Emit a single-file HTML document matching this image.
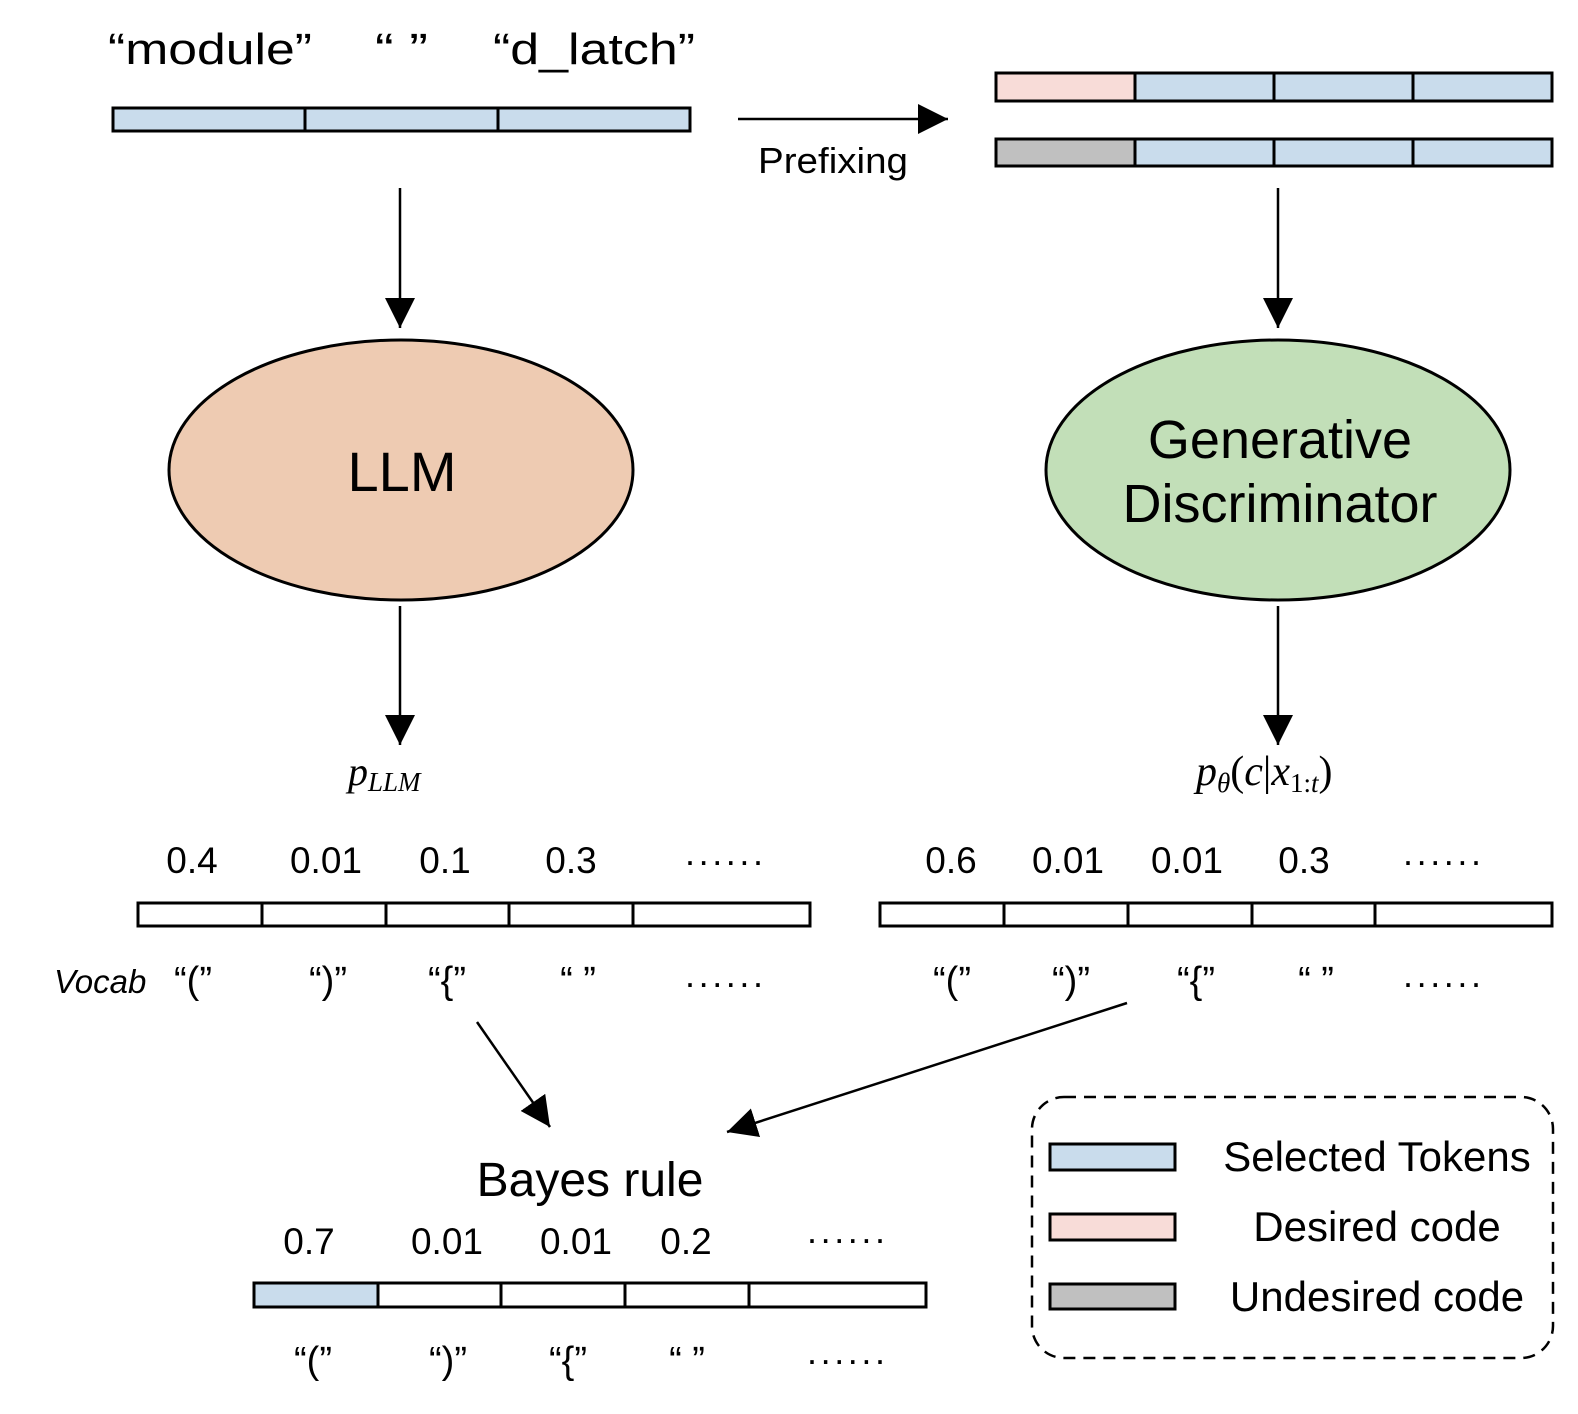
<!DOCTYPE html>
<html><head><meta charset="utf-8"><style>
html,body{margin:0;padding:0;background:#fff;}
svg{display:block;}
text{font-family:"Liberation Sans",Arial,sans-serif;fill:#000;}
.m{font-family:"Liberation Serif",serif;font-style:italic;}
</style></head><body>
<svg width="1578" height="1414" viewBox="0 0 1578 1414" xmlns="http://www.w3.org/2000/svg">
<defs>
<marker id="b" viewBox="0 0 10 10" refX="10" refY="5" markerWidth="30" markerHeight="30" orient="auto" markerUnits="userSpaceOnUse"><path d="M0,0 L10,5 L0,10 z" fill="#000"/></marker></defs>
<g stroke="#000" stroke-width="3" fill="none">
<rect x="113" y="108" width="577" height="23" fill="#c9dcec"/>
<line x1="305" y1="108" x2="305" y2="131"/><line x1="498" y1="108" x2="498" y2="131"/>
<rect x="996" y="73" width="556" height="28" fill="#c9dcec"/>
<rect x="996" y="73" width="139" height="28" fill="#f8dcd8"/>
<line x1="1274" y1="73" x2="1274" y2="101"/><line x1="1413" y1="73" x2="1413" y2="101"/>
<rect x="996" y="139" width="556" height="27" fill="#c9dcec"/>
<rect x="996" y="139" width="139" height="27" fill="#c0c0c0"/>
<line x1="1274" y1="139" x2="1274" y2="166"/><line x1="1413" y1="139" x2="1413" y2="166"/>
<line x1="738" y1="119" x2="948" y2="119" stroke-width="2.5" marker-end="url(#b)"/>
<line x1="400" y1="188" x2="400" y2="328" stroke-width="2.5" marker-end="url(#b)"/>
<line x1="1278" y1="188" x2="1278" y2="328" stroke-width="2.5" marker-end="url(#b)"/>
<line x1="400" y1="606" x2="400" y2="745" stroke-width="2.5" marker-end="url(#b)"/>
<line x1="1278" y1="606" x2="1278" y2="745" stroke-width="2.5" marker-end="url(#b)"/>
<line x1="477" y1="1022" x2="550" y2="1127" stroke-width="2.5" marker-end="url(#b)"/>
<line x1="1127" y1="1003" x2="727" y2="1132" stroke-width="2.5" marker-end="url(#b)"/>
<ellipse cx="401" cy="470" rx="232" ry="130" fill="#eecbb2"/>
<ellipse cx="1278" cy="470" rx="232" ry="130" fill="#c2dfb8"/>
<rect x="138" y="903" width="672" height="23" fill="#fff"/>
<line x1="262" y1="903" x2="262" y2="926"/><line x1="386" y1="903" x2="386" y2="926"/><line x1="509" y1="903" x2="509" y2="926"/><line x1="633" y1="903" x2="633" y2="926"/>
<rect x="880" y="903" width="672" height="23" fill="#fff"/>
<line x1="1004" y1="903" x2="1004" y2="926"/><line x1="1128" y1="903" x2="1128" y2="926"/><line x1="1252" y1="903" x2="1252" y2="926"/><line x1="1375" y1="903" x2="1375" y2="926"/>
<rect x="254" y="1283" width="672" height="24" fill="#fff"/>
<rect x="254" y="1283" width="124" height="24" fill="#c9dcec"/>
<line x1="501" y1="1283" x2="501" y2="1307"/><line x1="625" y1="1283" x2="625" y2="1307"/><line x1="749" y1="1283" x2="749" y2="1307"/>
<rect x="1032" y="1097" width="521" height="261" rx="32" stroke-dasharray="12,8" stroke-width="2.5"/>
<rect x="1050" y="1144" width="125" height="26" fill="#c9dcec"/>
<rect x="1050" y="1214" width="125" height="26" fill="#f8dcd8"/>
<rect x="1050" y="1284" width="125" height="25" fill="#c0c0c0"/>
</g>
<g font-size="44">
<text x="108" y="64" textLength="204" lengthAdjust="spacingAndGlyphs">“module”</text>
<text x="375" y="64" textLength="53" lengthAdjust="spacingAndGlyphs">“ ”</text>
<text x="493" y="64" textLength="202" lengthAdjust="spacingAndGlyphs">“d_latch”</text>
</g>
<text x="758" y="173" font-size="36" textLength="150" lengthAdjust="spacingAndGlyphs">Prefixing</text>
<text x="402" y="491" font-size="56" text-anchor="middle">LLM</text>
<text x="1280" y="458" font-size="54" text-anchor="middle">Generative</text>
<text x="1280" y="522" font-size="54" text-anchor="middle">Discriminator</text>
<text class="m" x="348" y="785" font-size="40">p<tspan font-size="27" dy="6">LLM</tspan></text>
<text class="m" x="1196" y="785" font-size="42">p<tspan font-size="27" dy="7">θ</tspan><tspan dy="-7" font-style="normal">(</tspan>c<tspan font-style="normal">|</tspan>x<tspan font-size="27" dy="7" font-style="normal">1:</tspan><tspan font-size="27">t</tspan><tspan dy="-7" font-style="normal">)</tspan></text>
<g font-size="37" text-anchor="middle">
<text x="192" y="873">0.4</text><text x="326" y="873">0.01</text><text x="445" y="873">0.1</text><text x="571" y="873">0.3</text>
<text x="951" y="873">0.6</text><text x="1068" y="873">0.01</text><text x="1187" y="873">0.01</text><text x="1304" y="873">0.3</text>
<text x="309" y="1254">0.7</text><text x="447" y="1254">0.01</text><text x="576" y="1254">0.01</text><text x="686" y="1254">0.2</text>
</g>
<g font-size="36">
<text x="685" y="865" textLength="78" lengthAdjust="spacing">......</text>
<text x="1403" y="865" textLength="78" lengthAdjust="spacing">......</text>
<text x="807" y="1243" textLength="78" lengthAdjust="spacing">......</text>
<text x="685" y="987" textLength="78" lengthAdjust="spacing">......</text>
<text x="1403" y="987" textLength="78" lengthAdjust="spacing">......</text>
<text x="807" y="1364" textLength="78" lengthAdjust="spacing">......</text>
</g>
<g font-size="38" text-anchor="middle">
<text x="193" y="993">“(”</text><text x="328" y="993">“)”</text><text x="447" y="993">“{”</text><text x="578" y="993">“ ”</text>
<text x="952" y="993">“(”</text><text x="1071" y="993">“)”</text><text x="1196" y="993">“{”</text><text x="1316" y="993">“ ”</text>
<text x="313" y="1373">“(”</text><text x="448" y="1373">“)”</text><text x="568" y="1373">“{”</text><text x="687" y="1373">“ ”</text>
</g>
<text x="54" y="993" font-size="33" font-style="italic">Vocab</text>
<text x="590" y="1196" font-size="48" text-anchor="middle">Bayes rule</text>
<g font-size="42" text-anchor="middle">
<text x="1377" y="1171">Selected Tokens</text>
<text x="1377" y="1241">Desired code</text>
<text x="1377" y="1311">Undesired code</text>
</g>
</svg>
</body></html>
